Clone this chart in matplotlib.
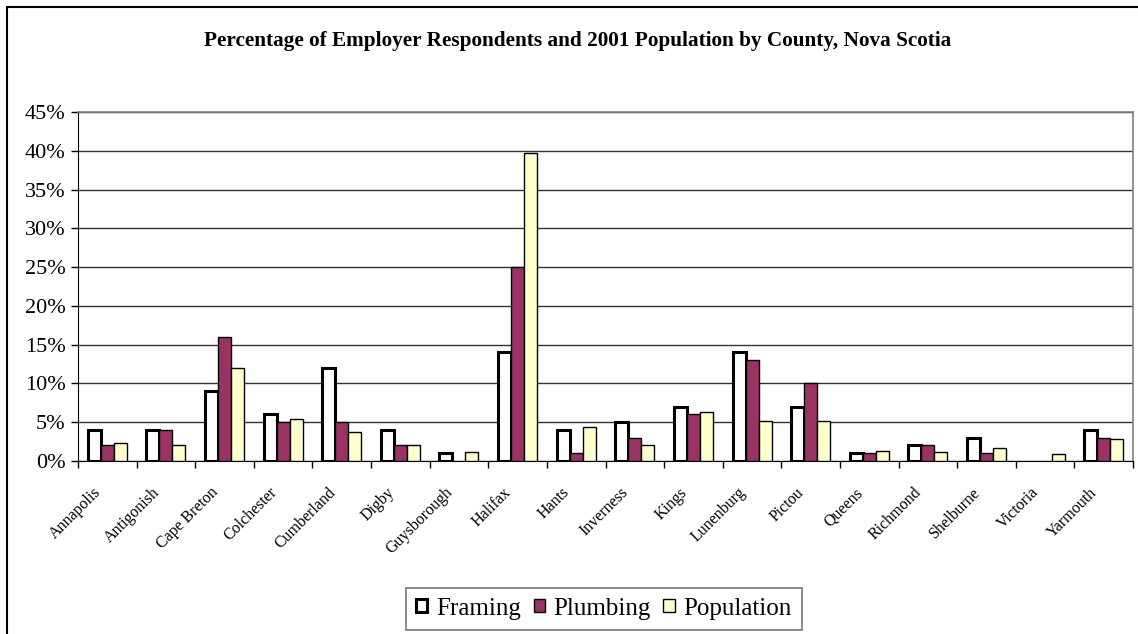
import numpy as np
import matplotlib
matplotlib.use("Agg")
import matplotlib.pyplot as plt
import matplotlib.transforms as mtransforms
from matplotlib.patches import Rectangle

counties = ["Annapolis", "Antigonish", "Cape Breton", "Colchester", "Cumberland",
            "Digby", "Guysborough", "Halifax", "Hants", "Inverness", "Kings",
            "Lunenburg", "Pictou", "Queens", "Richmond", "Shelburne", "Victoria",
            "Yarmouth"]
framing = [4, 4, 9, 6, 12, 4, 1, 14, 4, 5, 7, 14, 7, 1, 2, 3, 0, 4]
plumbing = [2, 4, 16, 5, 5, 2, 0, 25, 1, 3, 6, 13, 10, 1, 2, 1, 0, 3]
population = [2.3, 2.1, 12.0, 5.4, 3.7, 2.1, 1.1, 39.7, 4.4, 2.1, 6.3, 5.2,
              5.2, 1.3, 1.1, 1.7, 0.9, 2.9]
yticks = [0, 5, 10, 15, 20, 25, 30, 35, 40, 45]

plt.rcParams['font.family'] = ['Liberation Serif', 'DejaVu Serif']

W, H = 1138, 634
fig = plt.figure(figsize=(W / 100, H / 100), dpi=100)
ax = fig.add_axes([78 / W, (H - 461) / H, (1133 - 78) / W, (461 - 112) / H])

x = np.arange(len(counties))
bw = 0.222


def widths(vals, lw):
    # empty bars get no outline
    return [lw if v > 0 else 0 for v in vals]


ax.bar(x - bw, framing, bw, color="white", edgecolor="black",
       linewidth=widths(framing, 2.2), label="Framing", zorder=3)
ax.bar(x, plumbing, bw, color="#993366", edgecolor="black",
       linewidth=widths(plumbing, 1.0), label="Plumbing", zorder=3)
ax.bar(x + bw, population, bw, color="#FFFFCC", edgecolor="black",
       linewidth=widths(population, 1.0), label="Population", zorder=3)

ax.set_xlim(-0.5, len(counties) - 0.5)
ax.set_ylim(0, 45)
ax.set_yticks(yticks)
ax.set_yticklabels([f"{v}%" for v in yticks], fontsize=16)
ax.yaxis.grid(True, color="#333333", linewidth=1.0, zorder=0)
ax.tick_params(axis="y", direction="out", length=5, width=1, pad=4)

ax.set_xticks(x)
ax.set_xticks(np.arange(len(counties) + 1) - 0.5, minor=True)
ax.tick_params(axis="x", which="major", length=0, pad=17)
ax.tick_params(axis="x", which="minor", direction="out", length=5, width=1)
labels = ax.set_xticklabels(counties, rotation=45, ha="right", fontsize=11.5)
shift = mtransforms.ScaledTranslation(-3 / 100, 0, fig.dpi_scale_trans)
for lab in labels:
    lab.set_transform(lab.get_transform() + shift)

for side in ["top", "right"]:
    ax.spines[side].set_color("#808080")
    ax.spines[side].set_linewidth(1.2)
ax.spines["left"].set_color("black")
ax.spines["bottom"].set_color("black")

fig.text(0.5075, 1 - 41 / H, "Percentage of Employer Respondents and 2001 Population by County, Nova Scotia",
         ha="center", va="center", fontsize=15.3, fontweight="bold")

leg = ax.legend(loc="center", bbox_to_anchor=(604 / W, 1 - 608.5 / H),
                bbox_transform=fig.transFigure, ncol=3, fontsize=18,
                frameon=True, fancybox=False, edgecolor="#555555",
                handlelength=0.45, handleheight=0.45, handletextpad=0.35,
                columnspacing=0.5, borderpad=0.4, borderaxespad=0)
leg.get_frame().set_linewidth(1.2)

fig.patches.append(Rectangle((7 / W, -0.1), 1.2, 1 - 7 / H + 0.1,
                             transform=fig.transFigure, fill=False,
                             edgecolor="black", linewidth=1.5))

fig.savefig("out.png", dpi=100)
